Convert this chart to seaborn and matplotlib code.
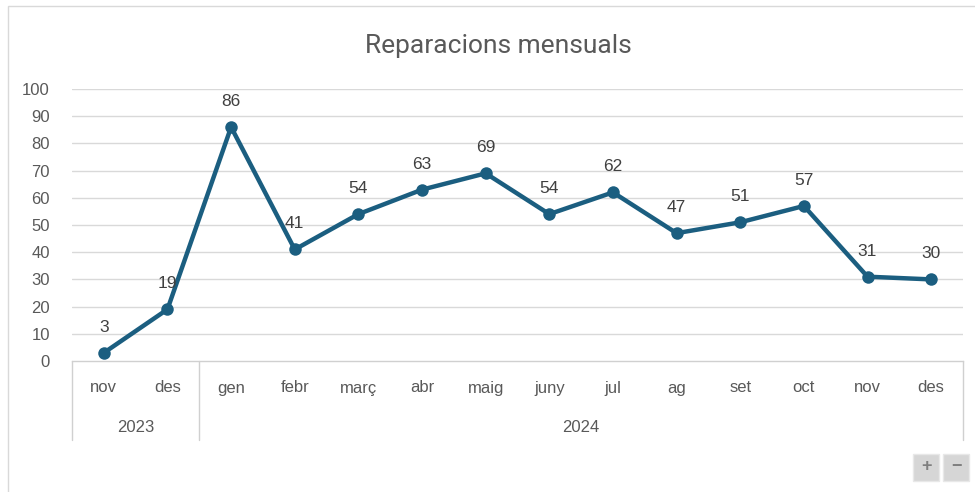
import matplotlib
matplotlib.use("Agg")
import matplotlib.pyplot as plt
import seaborn as sns
import pandas as pd
from matplotlib.patches import Rectangle

months = ["nov", "des", "gen", "febr", "març", "abr", "maig", "juny", "jul", "ag", "set", "oct", "nov", "des"]
years = ["2023", "2024"]
year_counts = [2, 12]
values = [3, 19, 86, 41, 54, 63, 69, 54, 62, 47, 51, 57, 31, 30]
title = "Reparacions mensuals"
yticks = list(range(0, 101, 10))

sns.set_theme(style="white")
plt.rcParams['font.family'] = ['Liberation Sans', 'DejaVu Sans']

W, H = 975, 492
fig = plt.figure(figsize=(W / 100, H / 100), dpi=100)
ax = fig.add_axes([72 / W, (H - 361) / H, (963 - 72) / W, (361 - 89) / H])

df = pd.DataFrame({"idx": range(len(values)), "val": values})
line_color = "#1B5E80"
sns.lineplot(data=df, x="idx", y="val", ax=ax, color=line_color, linewidth=3.2,
             marker="o", markersize=9, markeredgewidth=0)

ax.set_xlim(-0.5, len(values) - 0.5)
ax.set_ylim(0, 100)
ax.set_yticks(yticks)
ax.set_yticklabels([str(t) for t in yticks], fontsize=12, color="#595959")
ax.tick_params(axis="y", length=0, pad=16)
ax.set_xticks([])
ax.set_xlabel("")
ax.set_ylabel("")
for t in yticks[1:]:
    ax.axhline(t, color="#D9D9D9", linewidth=1, zorder=0)
for s in ["top", "right", "left"]:
    ax.spines[s].set_visible(False)
ax.spines["bottom"].set_color("#D0D0D0")
ax.spines["bottom"].set_linewidth(1)

# data labels
for i, v in enumerate(values):
    ax.annotate(str(v), (i, v), xytext=(0, 13), textcoords="offset points",
                ha="center", va="bottom", fontsize=12.5, color="#404040")

# month labels
trans = ax.get_xaxis_transform()
for i, m in enumerate(months):
    ax.text(i, -27 / 272, m, transform=trans, ha="center", va="center",
            fontsize=12, color="#595959")

# year labels and separators
start = 0
bounds = [-0.5]
for y, c in zip(years, year_counts):
    center = start + (c - 1) / 2
    ax.text(center, -66 / 272, y, transform=trans, ha="center", va="center",
            fontsize=12, color="#595959")
    start += c
    bounds.append(start - 0.5)
for b in bounds:
    ax.plot([b, b], [0, -79 / 272], transform=trans, color="#D0D0D0",
            linewidth=1, clip_on=False)

# title
fig.text(498 / W, 1 - 46 / H, title, ha="center", va="center", fontsize=19,
         color="#595959", family=["Roboto", "DejaVu Sans"])

# chart border
fig.patches.append(Rectangle((8 / W, -0.1), 1.2, 1 - 6 / H + 0.1, transform=fig.transFigure,
                             fill=False, edgecolor="#D9D9D9", linewidth=1))

# zoom buttons
for bx, sym in [(913, "+"), (943, "\u2212")]:
    fig.patches.append(Rectangle((bx / W, (H - 481) / H), 26 / W, 27 / H,
                                 transform=fig.transFigure, facecolor="#D6D6D6",
                                 edgecolor="#E8E8E8", linewidth=1))
    fig.text((bx + 13) / W, (H - 467) / H, sym, ha="center", va="center",
             fontsize=13, color="#7F7F7F", fontweight="bold")

fig.savefig("out.png", dpi=100, facecolor="white")
